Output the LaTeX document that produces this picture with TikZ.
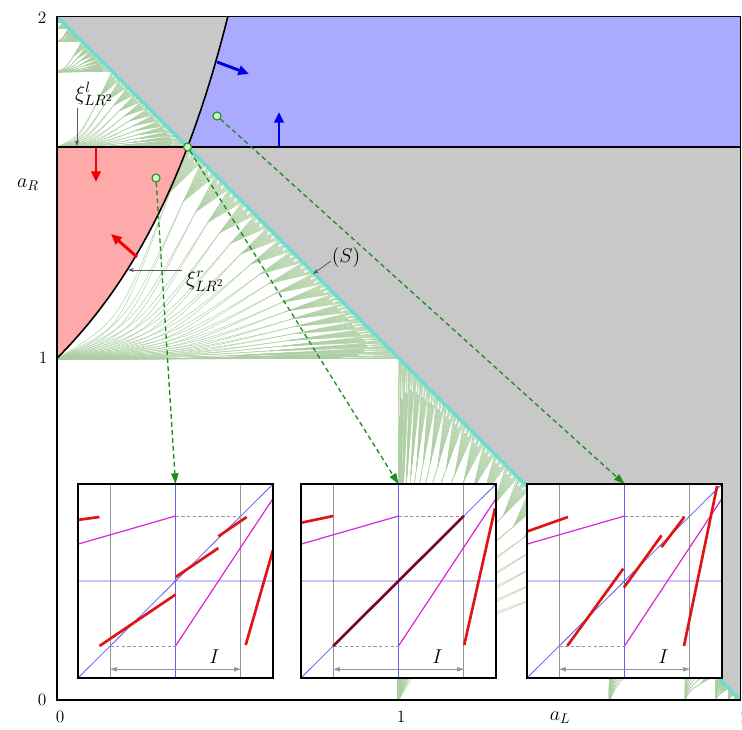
\RequirePackage{fix-cm}
\documentclass[tikz,border=0pt]{standalone}
\usetikzlibrary{arrows.meta}
\definecolor{grayreg}{RGB}{200,200,200}
\definecolor{bluereg}{RGB}{170,170,255}
\definecolor{redreg}{RGB}{255,170,170}
\definecolor{cyanline}{RGB}{100,222,215}
\definecolor{fanfillc}{RGB}{205,226,197}
\definecolor{fanlinec}{RGB}{172,206,162}
\definecolor{dgreen}{RGB}{30,140,30}
\definecolor{mkgreen}{RGB}{40,150,40}
\definecolor{mkfill}{RGB}{215,245,205}
\definecolor{arrred}{RGB}{240,0,0}
\definecolor{arrblue}{RGB}{0,0,230}
\definecolor{insred}{RGB}{225,20,20}
\definecolor{insmaroon}{RGB}{120,10,45}
\definecolor{insmag}{RGB}{215,40,215}
\definecolor{insblue}{RGB}{95,95,235}
\definecolor{insgray}{RGB}{150,150,150}
\definecolor{annotc}{RGB}{90,90,90}

% one fan in "unit" coordinates: apex (0,1), bounded by a_R=1, xi^r and the diagonal
\newcommand\unitfan[1]{%
  \pgfmathtruncatemacro\fanNm{#1-1}%
  \draw[fanline] (0,1) -- (1,1);
  \foreach \k in {0,...,\fanNm}{%
    \pgfmathsetmacro\ftk{0.381966+0.618034*(1-max(1-\k/#1,0.00001)^1.5)}%
    \pgfmathsetmacro\ftn{0.381966+0.618034*(1-max(1-(\k+1)/#1,0.00001)^1.5)}%
    \pgfmathsetmacro\fdk{\ftn-\ftk}%
    \pgfmathsetmacro\fmk{(1-\ftk)/\ftk}%
    \pgfmathsetmacro\fsu{min(1.6*\fmk,2.6)}%
    \pgfmathsetmacro\fsl{0.6*\fmk}%
    \pgfmathsetmacro\fal{\fdk*(1+\fsl)/(\fsu-\fsl)}%
    \pgfmathsetmacro\fpx{\ftk-\fal}%
    \pgfmathsetmacro\fpy{2-\ftk-\fal*\fsu}%
    \filldraw[fantri] (\fpx,\fpy) -- (\ftk,{2-\ftk}) -- (\ftn,{2-\ftn}) -- cycle;
    \foreach \j in {1,...,6}{\draw[fanline] (\fpx,\fpy) -- ({\ftk+\j*\fdk/7},{2-\ftk-\j*\fdk/7});}
    \draw[fanline] (0,1) .. controls ({0.55*\fpx},{1+0.22*(\fpy-1)}) .. (\fpx,\fpy);
    \draw[fanline] (0,1) .. controls ({0.55*\fpx},{1+0.16*(\fpy-1)}) .. (\fpx,\fpy);
    \pgfmathsetmacro\fhh{0.5*\fal/3}%
    \foreach \j in {1,2}{%
      \pgfmathsetmacro\fqx{\ftk+\j*\fdk/3}%
      \fill[white] (\fqx,{2-\fqx}) -- ({\fqx-\fhh},{2-\fqx-\fhh*\fsl}) -- ({\fqx-\fhh},{2-\fqx-\fhh*\fsu}) -- cycle;
    }%
  }%
}
\newcommand\allfans{%
  \unitfan{22}%
  \begin{scope}[cm={0.381966,0,0.023971,0.357995,(-0.023971,1.260039)}]\unitfan{14}\end{scope}%
  \begin{scope}[cm={0.160713,0,0.017881,0.142832,(-0.017881,1.696455)}]\unitfan{9}\end{scope}%
  \begin{scope}[cm={0.072438,0,0.010328,0.062110,(-0.010328,1.865452)}]\unitfan{6}\end{scope}%
  \begin{scope}[cm={0.034052,0,0.005518,0.028534,(-0.005518,1.937414)}]\unitfan{4}\end{scope}%
  \begin{scope}[cm={0.016417,0,0.002856,0.013561,(-0.002856,1.970022)}]\unitfan{3}\end{scope}%
}
\newcommand\insetbase{%
  \draw[igray] (0.165,0) -- (0.165,1) (0.835,0) -- (0.835,1);
  \draw[iblue] (0.5,0) -- (0.5,1) (0,0.5) -- (1,0.5) (0,0) -- (1,1);
  \draw[idash] (0.5,0.835) -- (0.835,0.835) (0.165,0.165) -- (0.5,0.165);
  \draw[imag] (0,0.69) -- (0.5,0.835) (0.5,0.165) -- (1,0.925);
}

\begin{document}
\begin{tikzpicture}[x=0.75pt,y=0.75pt,
  lab/.style={font=\fontsize{13}{15}\selectfont, inner sep=0pt},
  labm/.style={font=\fontsize{15}{17}\selectfont, inner sep=0pt},
  labx/.style={font=\fontsize{16}{18}\selectfont, inner sep=0pt},
  fantri/.style={fill=fanfillc, draw=fanlinec, line width=0.3pt},
  fanline/.style={draw=fanlinec, line width=0.35pt},
  marker/.style={circle, draw=mkgreen, fill=mkfill, line width=0.9pt, minimum size=6pt, inner sep=0pt},
  garrow/.style={draw=dgreen, line width=1pt, dash pattern=on 3.5pt off 2.5pt, -{Triangle[length=8pt,width=5.5pt]}},
  redarr/.style={draw=arrred, line width=2.2pt, -{Triangle[length=8pt,width=7pt]}},
  bluearr/.style={draw=arrblue, line width=2.2pt, -{Triangle[length=8pt,width=7pt]}},
  annarr/.style={draw=annotc, line width=0.6pt, -{Stealth[length=4.5pt,width=3.2pt]}},
  insetbox/.style={draw=black, fill=white, line width=1.1pt, minimum width=146.25pt, minimum height=145.5pt, inner sep=0pt, outer sep=0pt},
  igray/.style={draw=insgray, line width=0.6pt},
  iblue/.style={draw=insblue, line width=0.6pt},
  idash/.style={draw=insgray, line width=0.6pt, dash pattern=on 2.5pt off 1.8pt},
  imag/.style={draw=insmag, line width=0.9pt},
  ired/.style={draw=insred, line width=2pt},
  iarr/.style={draw=insgray, line width=0.7pt, {Triangle[length=5pt,width=3.2pt]}-{Triangle[length=5pt,width=3.2pt]}},
]
\useasboundingbox (0,0) rectangle (742,729);

% ---------- main diagram (data coordinates) ----------
\begin{scope}[shift={(57,29)}, x=256.3125pt, y=256.3125pt]
  \fill[grayreg] (0,2) -- (2,2) -- (2,0) -- cycle;
  \begin{scope}
    \clip (0,0) -- (0,2) -- (2,0) -- cycle;
    \allfans
    \begin{scope}[cm={0,1,1,0,(0,0)}]
      \allfans
    \end{scope}
  \end{scope}
  \fill[redreg] plot[domain=0:0.381966,samples=30] (\x,{1/(1-\x)}) -- (0,1.618034) -- cycle;
  \fill[bluereg] plot[domain=0.381966:0.5,samples=12] (\x,{1/(1-\x)}) -- (2,2) -- (2,1.618034) -- cycle;
  \draw[cyanline, line width=2.2pt] (0,2) -- (2,0);
  \draw[black, line width=1.1pt] (0,1.618034) -- (2,1.618034);
  \draw[black, line width=1.2pt] plot[domain=0:0.5,samples=40] (\x,{1/(1-\x)});
  \draw[black, line width=1pt] (0,0) rectangle (2,2);
  \node[marker] (p2) at (0.381966,1.618034) {};
\end{scope}

% ---------- region arrows ----------
\coordinate (r1a) at (96,581); \coordinate (r1b) at (96,547);
\draw[redarr] (r1a) -- (r1b);
\coordinate (r2a) at (137,472); \coordinate (r2b) at (111,495);
\draw[redarr] (r2a) -- (r2b);
\coordinate (b1a) at (217,667); \coordinate (b1b) at (249,655);
\draw[bluearr] (b1a) -- (b1b);
\coordinate (b2a) at (279,582); \coordinate (b2b) at (279,617);
\draw[bluearr] (b2a) -- (b2b);

% ---------- annotations ----------
\node[labx] (xil) at (94,635) {$\xi^{l}_{LR^2}$};
\coordinate (xila) at (77,621); \coordinate (xilb) at (77,583);
\draw[annarr] (xila) -- (xilb);
\node[labx] (xir) at (205,448) {$\xi^{r}_{LR^2}$};
\coordinate (xira) at (182,459); \coordinate (xirb) at (128,459);
\draw[annarr] (xira) -- (xirb);
\node[labm] (slab) at (346,471) {$(S)$};
\coordinate (sa) at (331,468); \coordinate (sb) at (313,455);
\draw[annarr] (sa) -- (sb);

% ---------- axis labels ----------
\node[lab] (y2) at (42,711) {2};
\node[labm] (yaR) at (28,544) {$a_R$};
\node[lab] (y1) at (43,371) {1};
\node[lab] (y0) at (42,29) {0};
\node[lab] (x0) at (60,12) {0};
\node[lab] (x1) at (401,12) {1};
\node[labm] (xaL) at (560,11) {$a_L$};
\node[lab] (x2) at (745,12) {2};

% ---------- markers ----------
\node[marker] (p1) at (156,551) {};
\node[marker] (p3) at (217,613) {};

% ---------- insets ----------
\node[insetbox] (box1) at (175.5,148) {};
\node[insetbox] (box2) at (398.5,148) {};
\node[insetbox] (box3) at (624.5,148) {};

\draw[garrow] (p1) -- (box1.north);
\draw[garrow] (p2) -- (box2.north);
\draw[garrow] (p3) -- (box3.north);

\begin{scope}[shift={(box1.south west)}, x=146.25pt, y=145.5pt]
  \begin{scope}
    \clip (0,0) rectangle (1,1);
    \insetbase
    \draw[ired] (0,0.815) -- (0.11,0.83);
    \draw[ired] (0.11,0.165) -- (0.5,0.43);
    \draw[ired] (0.5,0.52) -- (0.72,0.67);
    \draw[ired] (0.72,0.73) -- (0.865,0.83);
    \draw[ired] (0.86,0.17) -- (1.0,0.66);
  \end{scope}
  \coordinate (i1a) at (0.165,0.045); \coordinate (i1b) at (0.835,0.045);
  \draw[iarr] (i1a) -- (i1b);
  \node[labm] (I1) at (0.70,0.11) {$I$};
\end{scope}
\draw[black, line width=1.1pt] (box1.south west) rectangle (box1.north east);

\begin{scope}[shift={(box2.south west)}, x=146.25pt, y=145.5pt]
  \begin{scope}
    \clip (0,0) rectangle (1,1);
    \insetbase
    \draw[ired] (0,0.80) -- (0.165,0.835);
    \draw[insmaroon, line width=2pt] (0.165,0.165) -- (0.835,0.835);
    \draw[ired] (0.837,0.17) -- (0.995,0.875);
  \end{scope}
  \coordinate (i2a) at (0.165,0.045); \coordinate (i2b) at (0.835,0.045);
  \draw[iarr] (i2a) -- (i2b);
  \node[labm] (I2) at (0.70,0.11) {$I$};
\end{scope}
\draw[black, line width=1.1pt] (box2.south west) rectangle (box2.north east);

\begin{scope}[shift={(box3.south west)}, x=146.25pt, y=145.5pt]
  \begin{scope}
    \clip (0,0) rectangle (1,1);
    \insetbase
    \draw[ired] (0,0.755) -- (0.21,0.83);
    \draw[ired] (0.207,0.166) -- (0.494,0.564);
    \draw[ired] (0.497,0.466) -- (0.69,0.735);
    \draw[ired] (0.69,0.675) -- (0.807,0.83);
    \draw[ired] (0.805,0.165) -- (0.975,0.99);
  \end{scope}
  \coordinate (i3a) at (0.165,0.045); \coordinate (i3b) at (0.835,0.045);
  \draw[iarr] (i3a) -- (i3b);
  \node[labm] (I3) at (0.70,0.11) {$I$};
\end{scope}
\draw[black, line width=1.1pt] (box3.south west) rectangle (box3.north east);
\end{tikzpicture}
\end{document}
